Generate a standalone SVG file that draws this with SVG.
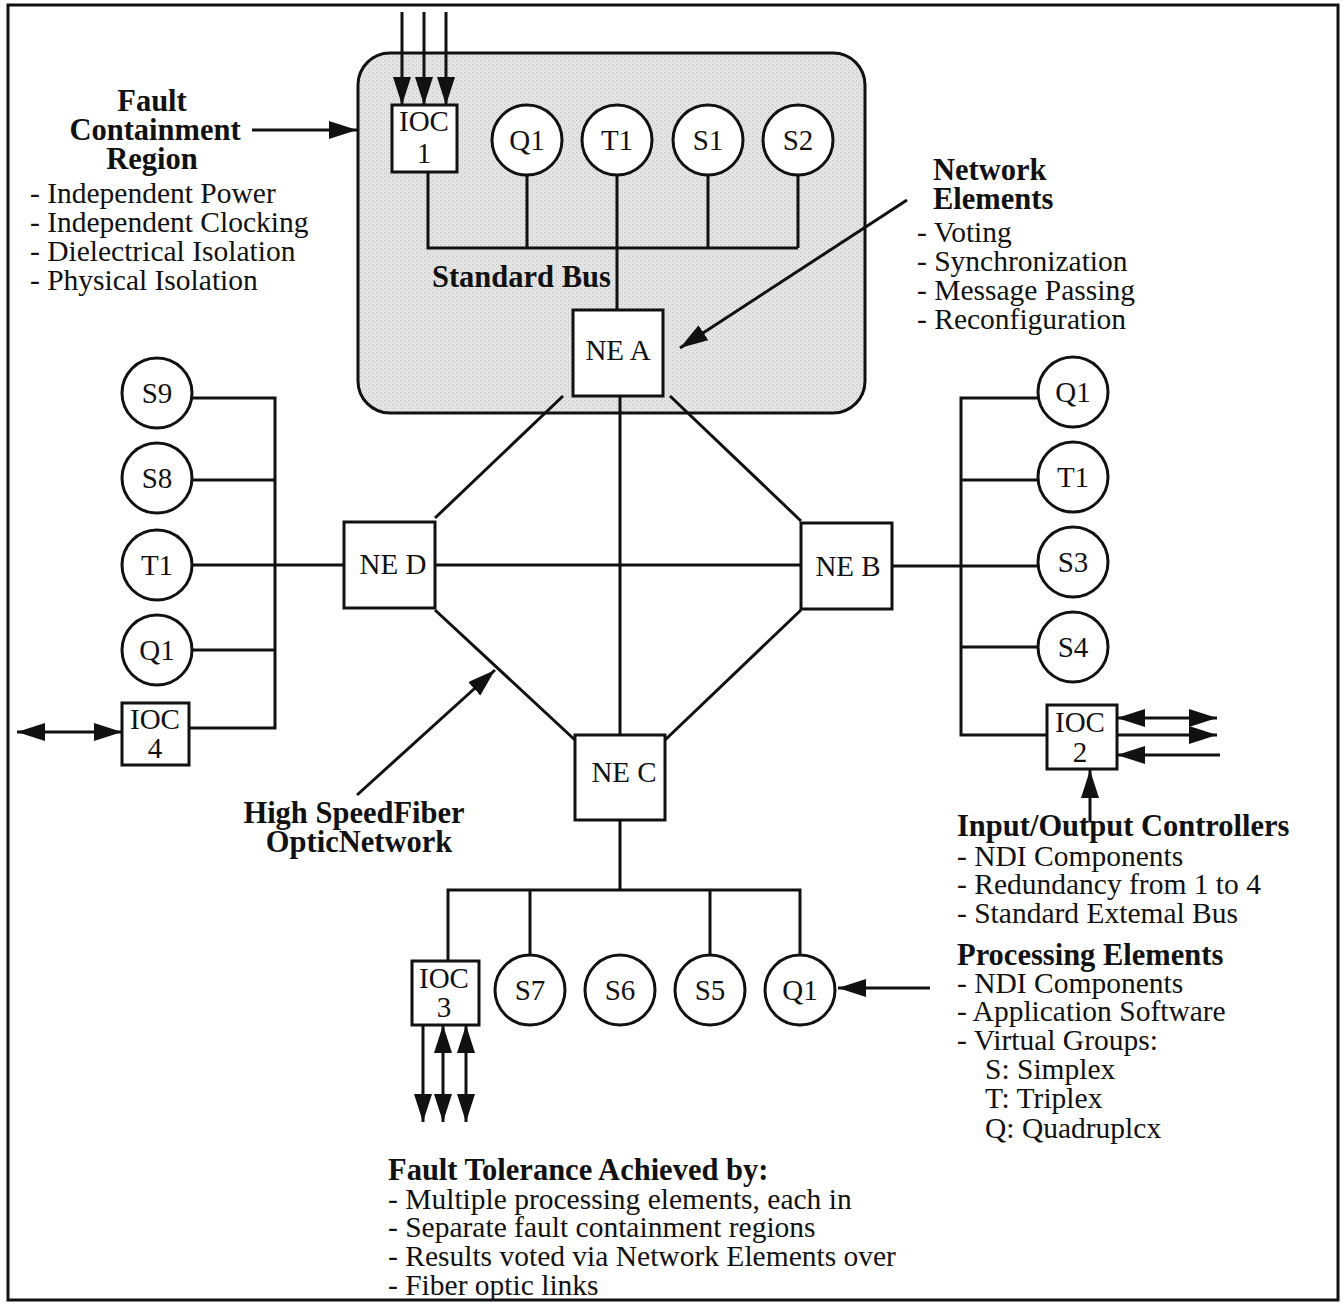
<svg xmlns="http://www.w3.org/2000/svg" width="1343" height="1304" viewBox="0 0 1343 1304">
<defs>
<marker id="ah" markerUnits="userSpaceOnUse" markerWidth="30" markerHeight="20" refX="28" refY="9" orient="auto-start-reverse"><path d="M0,0 L28,9 L0,18 z" fill="#111"/></marker>
<pattern id="dots" width="4" height="4" patternUnits="userSpaceOnUse"><rect width="4" height="4" fill="#e4e4e4"/><rect width="1" height="1" fill="#bdbdbd"/><rect x="2" y="2" width="1" height="1" fill="#c8c8c8"/></pattern>
</defs>
<style>
.ln{stroke:#111;stroke-width:3;fill:none}
.bx{fill:#fff;stroke:#111;stroke-width:3}
.t{font-family:"Liberation Serif",serif;font-size:29.5px;fill:#111}
.n{font-family:"Liberation Serif",serif;font-size:29px;fill:#111}
.b{font-family:"Liberation Serif",serif;font-size:30.5px;font-weight:bold;fill:#111}
.c{text-anchor:middle}
.ar{stroke:#111;stroke-width:3;fill:none;marker-end:url(#ah)}
.ar2{stroke:#111;stroke-width:3;fill:none;marker-end:url(#ah);marker-start:url(#ah)}
</style>
<rect x="0" y="0" width="1343" height="1304" fill="#fff"/>
<rect x="8" y="5" width="1330" height="1295" fill="none" stroke="#111" stroke-width="3"/>
<rect id="fcr" x="358" y="53" width="507" height="360" rx="32" fill="url(#dots)" stroke="#111" stroke-width="3"/>

<g id="connectors">
<path class="ln" d="M428,172 V248 H798 M527,175 V248 M708,175 V248 M798,175 V248 M617,175 V310"/>
<path class="ln" d="M563,396 L435,518 M670,396 L801,521 M435,610 L575,740 M801,610 L665,740 M620,396 V735 M435,565 H801"/>
<path class="ln" d="M192,398 H275 V728 H189 M192,480 H275 M192,565 H344 M192,650 H275"/>
<path class="ln" d="M1038,398 H961 V735 H1047 M1038,480 H961 M892,566 H1038 M1038,647 H961"/>
<path class="ln" d="M620,820 V890 M448,961 V890 H800 V955 M530,890 V955 M710,890 V955"/>
<line class="ar" x1="402" y1="12" x2="402" y2="105"/>
<line class="ar" x1="424" y1="12" x2="424" y2="105"/>
<line class="ar" x1="446" y1="12" x2="446" y2="105"/>
<line class="ar2" x1="122" y1="732" x2="17" y2="732"/>
<line class="ar2" x1="1117" y1="718" x2="1217" y2="718"/>
<line class="ar" x1="1117" y1="735" x2="1217" y2="735"/>
<line class="ar" x1="1220" y1="755" x2="1117" y2="755"/>
<line class="ar" x1="423" y1="1025" x2="423" y2="1122"/>
<line class="ar2" x1="443" y1="1025" x2="443" y2="1122"/>
<line class="ar2" x1="466" y1="1025" x2="466" y2="1122"/>
<line class="ar" x1="252" y1="130" x2="357" y2="130"/>
<line class="ar" x1="907" y1="200" x2="680" y2="348"/>
<line class="ar" x1="357" y1="795" x2="495" y2="670"/>
<line class="ar" x1="1090" y1="822" x2="1090" y2="770"/>
<line class="ar" x1="930" y1="988" x2="838" y2="988"/>
</g>

<g id="ioc1"><rect class="bx" x="392" y="105" width="65" height="67"/><text class="n c" x="424" y="131">IOC</text><text class="n c" x="424" y="163">1</text></g>
<g id="q1a"><circle class="bx" cx="527" cy="140" r="35"/><text class="n c" x="527" y="150">Q1</text></g>
<g id="t1a"><circle class="bx" cx="617" cy="140" r="35"/><text class="n c" x="617" y="150">T1</text></g>
<g id="s1"><circle class="bx" cx="708" cy="140" r="35"/><text class="n c" x="708" y="150">S1</text></g>
<g id="s2"><circle class="bx" cx="798" cy="140" r="35"/><text class="n c" x="798" y="150">S2</text></g>

<g id="nea"><rect class="bx" x="573" y="310" width="90" height="86"/><text class="n c" x="618" y="360">NE A</text></g>
<g id="ned"><rect class="bx" x="344" y="522" width="91" height="86"/><text class="n c" x="393" y="574">NE D</text></g>
<g id="neb"><rect class="bx" x="801" y="523" width="91" height="86"/><text class="n c" x="848" y="576">NE B</text></g>
<g id="nec"><rect class="bx" x="575" y="735" width="90" height="85"/><text class="n c" x="624" y="782">NE C</text></g>

<g id="s9"><circle class="bx" cx="157" cy="393" r="35"/><text class="n c" x="157" y="403">S9</text></g>
<g id="s8"><circle class="bx" cx="157" cy="478" r="35"/><text class="n c" x="157" y="488">S8</text></g>
<g id="t1d"><circle class="bx" cx="157" cy="565" r="35"/><text class="n c" x="157" y="575">T1</text></g>
<g id="q1d"><circle class="bx" cx="157" cy="650" r="35"/><text class="n c" x="157" y="660">Q1</text></g>
<g id="ioc4"><rect class="bx" x="122" y="703" width="67" height="62"/><text class="n c" x="155" y="729">IOC</text><text class="n c" x="155" y="758">4</text></g>

<g id="q1b"><circle class="bx" cx="1073" cy="392" r="35"/><text class="n c" x="1073" y="402">Q1</text></g>
<g id="t1b"><circle class="bx" cx="1073" cy="477" r="35"/><text class="n c" x="1073" y="487">T1</text></g>
<g id="s3"><circle class="bx" cx="1073" cy="562" r="35"/><text class="n c" x="1073" y="572">S3</text></g>
<g id="s4"><circle class="bx" cx="1073" cy="647" r="35"/><text class="n c" x="1073" y="657">S4</text></g>
<g id="ioc2"><rect class="bx" x="1047" y="705" width="70" height="64"/><text class="n c" x="1080" y="732">IOC</text><text class="n c" x="1080" y="762">2</text></g>

<g id="ioc3"><rect class="bx" x="412" y="961" width="67" height="64"/><text class="n c" x="444" y="988">IOC</text><text class="n c" x="444" y="1017">3</text></g>
<g id="s7"><circle class="bx" cx="530" cy="990" r="35"/><text class="n c" x="530" y="1000">S7</text></g>
<g id="s6"><circle class="bx" cx="620" cy="990" r="35"/><text class="n c" x="620" y="1000">S6</text></g>
<g id="s5"><circle class="bx" cx="710" cy="990" r="35"/><text class="n c" x="710" y="1000">S5</text></g>
<g id="q1c"><circle class="bx" cx="800" cy="990" r="35"/><text class="n c" x="800" y="1000">Q1</text></g>

<g id="lbl-fcr">
<text class="b c" x="152" y="111">Fault</text>
<text class="b c" x="155" y="140">Containment</text>
<text class="b c" x="152" y="169">Region</text>
<text class="t" x="30" y="203">- Independent Power</text>
<text class="t" x="30" y="232">- Independent Clocking</text>
<text class="t" x="30" y="261">- Dielectrical Isolation</text>
<text class="t" x="30" y="290">- Physical Isolation</text>
</g>
<text id="lbl-bus" class="b" x="432" y="287">Standard Bus</text>
<g id="lbl-ne">
<text class="b" x="933" y="180">Network</text>
<text class="b" x="933" y="209">Elements</text>
<text class="t" x="917" y="242">- Voting</text>
<text class="t" x="917" y="271">- Synchronization</text>
<text class="t" x="917" y="300">- Message Passing</text>
<text class="t" x="917" y="329">- Reconfiguration</text>
</g>
<g id="lbl-net">
<text class="b c" x="354" y="823">High SpeedFiber</text>
<text class="b c" x="359" y="852">OpticNetwork</text>
</g>
<g id="lbl-ioc">
<text class="b" x="957" y="836">Input/Output Controllers</text>
<text class="t" x="957" y="866">- NDI Components</text>
<text class="t" x="957" y="894">- Redundancy from 1 to 4</text>
<text class="t" x="957" y="923">- Standard Extemal Bus</text>
</g>
<g id="lbl-pe">
<text class="b" x="957" y="965">Processing Elements</text>
<text class="t" x="957" y="993">- NDI Components</text>
<text class="t" x="957" y="1021">- Application Software</text>
<text class="t" x="957" y="1050">- Virtual Groups:</text>
<text class="t" x="985" y="1079">S: Simplex</text>
<text class="t" x="985" y="1108">T: Triplex</text>
<text class="t" x="985" y="1138">Q: Quadruplcx</text>
</g>
<g id="lbl-ft">
<text class="b" x="388" y="1180">Fault Tolerance Achieved by:</text>
<text class="t" x="388" y="1209">- Multiple processing elements, each in</text>
<text class="t" x="388" y="1237">- Separate fault containment regions</text>
<text class="t" x="388" y="1266">- Results voted via Network Elements over</text>
<text class="t" x="388" y="1295">- Fiber optic links</text>
</g>
</svg>
